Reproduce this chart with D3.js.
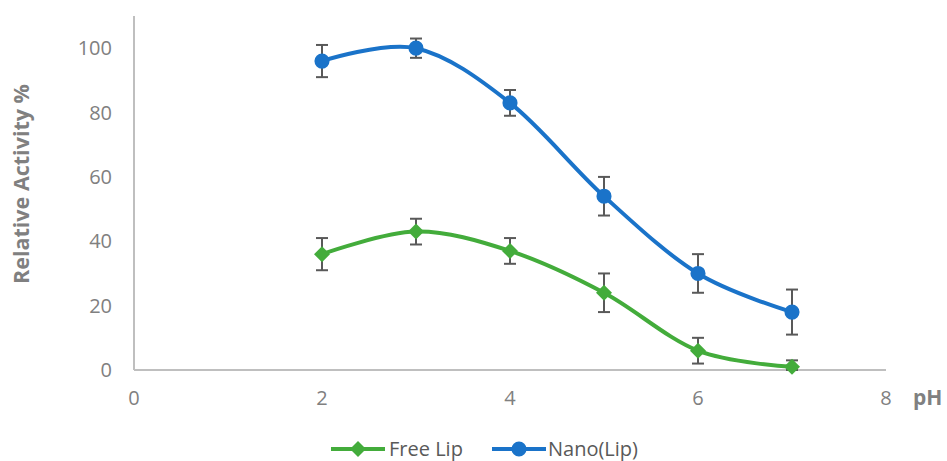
<!DOCTYPE html>
<html><head><meta charset="utf-8">
<script src="https://cdn.jsdelivr.net/npm/d3@7"></script>
<style>body{margin:0;background:#fff}svg{display:block}</style>
</head><body>
<svg id="c" width="947" height="461"></svg>
<script>
const phValues = [2, 3, 4, 5, 6, 7];
const freeLip = [36, 43, 37, 24, 6, 1];
const freeLipErr = [5, 4, 4, 6, 4, 2];
const nanoLip = [96, 100, 83, 54, 30, 18];
const nanoLipErr = [5, 3, 4, 6, 6, 7];
const xTicks = [0, 2, 4, 6, 8];
const yTicks = [0, 20, 40, 60, 80, 100];
const seriesNames = ["Free Lip", "Nano(Lip)"];

const svg = d3.select("#c");
const font = "'Open Sans', sans-serif";
const x = d3.scaleLinear().domain([0, 8]).range([134, 886]);
const y = d3.scaleLinear().domain([0, 110]).range([370, 16]);

const grey = "#BFBFBF", txt = "#808080";
svg.append("line").attr("x1", x(0)).attr("x2", x(8)).attr("y1", y(0)).attr("y2", y(0)).attr("stroke", grey).attr("stroke-width", 2);
svg.append("line").attr("x1", x(0)).attr("x2", x(0)).attr("y1", y(0)).attr("y2", y(110)).attr("stroke", grey).attr("stroke-width", 2);

svg.selectAll(".yt").data(yTicks).enter().append("text")
  .attr("x", 112).attr("y", d => y(d)).attr("dy", "0.36em").attr("text-anchor", "end")
  .attr("font-family", font).attr("font-size", 20).attr("fill", txt).text(d => d);
svg.selectAll(".xt").data(xTicks).enter().append("text")
  .attr("x", d => x(d)).attr("y", 405).attr("text-anchor", "middle")
  .attr("font-family", font).attr("font-size", 20).attr("fill", txt).text(d => d);

svg.append("text").attr("transform", "translate(29,184) rotate(-90)").attr("text-anchor", "middle")
  .attr("font-family", font).attr("font-size", 21.5).attr("font-weight", "bold").attr("fill", txt).text("Relative Activity %");
svg.append("text").attr("x", 913).attr("y", 405)
  .attr("font-family", font).attr("font-size", 21).attr("font-weight", "bold").attr("fill", txt).text("pH");

const diamond = {draw(ctx, size) { const r = 8; ctx.moveTo(0, -r); ctx.lineTo(r, 0); ctx.lineTo(0, r); ctx.lineTo(-r, 0); ctx.closePath(); }};
const series = [
  {name: seriesNames[0], vals: freeLip, err: freeLipErr, color: "#43AC3B", shape: diamond},
  {name: seriesNames[1], vals: nanoLip, err: nanoLipErr, color: "#1A73C9", shape: d3.symbolCircle}
];
const line = d3.line().x(d => x(d[0])).y(d => y(d[1])).curve(d3.curveCatmullRom.alpha(0));

series.forEach(s => {
  const pts = phValues.map((p, i) => [p, s.vals[i], s.err[i]]);
  svg.append("path").attr("d", line(pts)).attr("fill", "none").attr("stroke", s.color).attr("stroke-width", 4);
  const eb = svg.append("g").attr("stroke", "#595959").attr("stroke-width", 2);
  pts.forEach(p => {
    const top = y(p[1] + p[2]), bot = y(Math.max(0, p[1] - p[2]));
    eb.append("line").attr("x1", x(p[0])).attr("x2", x(p[0])).attr("y1", top).attr("y2", bot);
    eb.append("line").attr("x1", x(p[0]) - 6).attr("x2", x(p[0]) + 6).attr("y1", top).attr("y2", top);
    eb.append("line").attr("x1", x(p[0]) - 6).attr("x2", x(p[0]) + 6).attr("y1", bot).attr("y2", bot);
  });
  svg.append("g").selectAll("path").data(pts).enter().append("path")
    .attr("transform", d => `translate(${x(d[0])},${y(d[1])})`)
    .attr("d", d3.symbol().type(s.shape).size(180))
    .attr("fill", s.color);
});

const lg = [{x0: 331, tx: 389}, {x0: 492, tx: 548}];
series.forEach((s, i) => {
  const g = svg.append("g");
  g.append("line").attr("x1", lg[i].x0).attr("x2", lg[i].x0 + 54).attr("y1", 449).attr("y2", 449).attr("stroke", s.color).attr("stroke-width", 4);
  g.append("path").attr("transform", `translate(${lg[i].x0 + 27},449)`)
    .attr("d", d3.symbol().type(s.shape).size(180)).attr("fill", s.color);
  g.append("text").attr("x", lg[i].tx).attr("y", 449).attr("dy", "0.36em")
    .attr("font-family", font).attr("font-size", 20).attr("fill", "#595959").text(s.name);
});
</script>
</body></html>
